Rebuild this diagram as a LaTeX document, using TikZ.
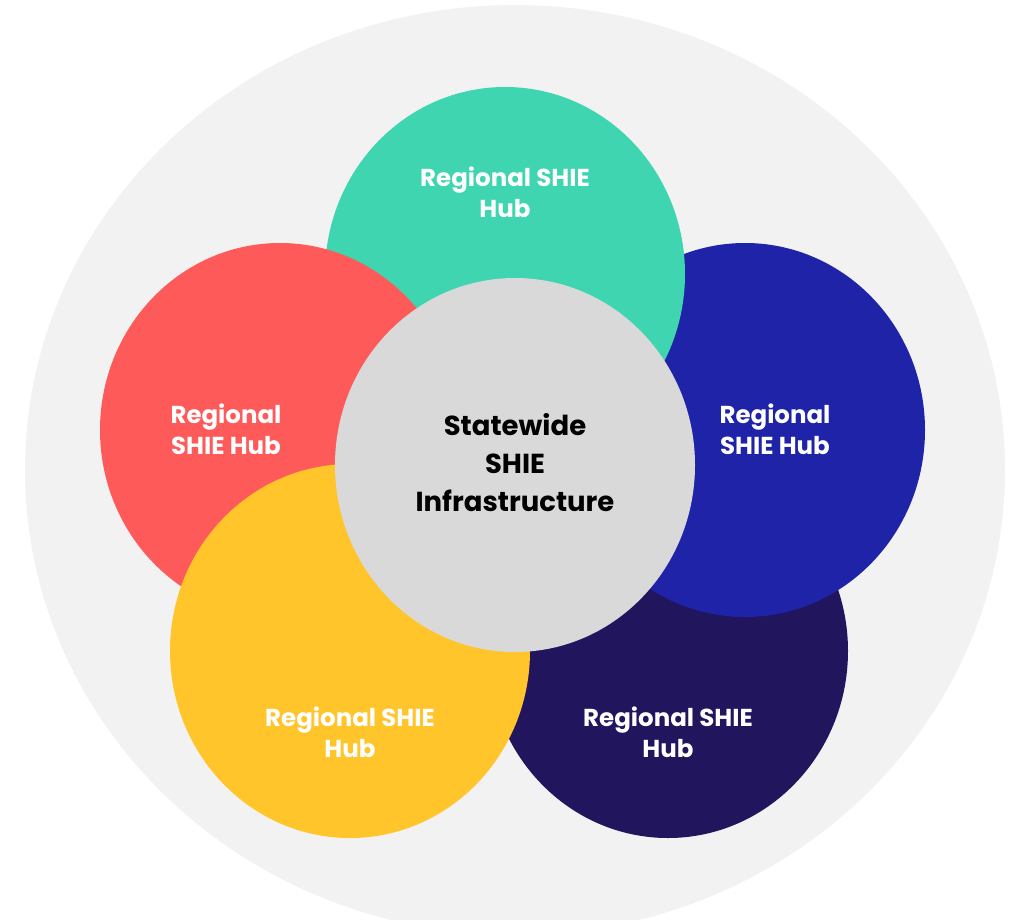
\documentclass[tikz,border=0pt]{standalone}
\usepackage{fontspec}
\setmainfont{Poppins}
\definecolor{backgray}{HTML}{F2F2F2}
\definecolor{hubteal}{HTML}{3ED5B0}
\definecolor{hubred}{HTML}{FF5A5A}
\definecolor{hubblue}{HTML}{1F23A8}
\definecolor{hubnavy}{HTML}{21155E}
\definecolor{hubyellow}{HTML}{FFC52B}
\definecolor{coregray}{HTML}{D9D9D9}
\begin{document}
\begin{tikzpicture}[x=1pt,y=-1pt,
    hub/.style={text=white, align=center, font=\bfseries\fontsize{24.5}{31}\selectfont},
    core/.style={text=black, align=center, font=\bfseries\fontsize{27.5}{38}\selectfont}]
    \def\rx{180pt}
    \def\ry{187pt}

    \useasboundingbox (0,0) rectangle (1015,919) ;
    \fill [backgray] (515,470) ellipse [x radius=490pt, y radius=465pt] ;
    \foreach \c/\x/\y in {hubnavy/668/651, hubblue/745/430, hubteal/505/274,
      hubred/280/430, hubyellow/350/651, coregray/515/465} {
      \fill [\c] (\x,\y) ellipse [x radius=\rx, y radius=\ry] ;
    }

    \node [hub] (north) at (505,192) {Regional SHIE\\Hub} ;
    \node [hub] (west) at (226,429) {Regional\\SHIE Hub} ;
    \node [hub] (east) at (775,429) {Regional\\SHIE Hub} ;
    \node [hub] (southwest) at (350,732) {Regional SHIE\\Hub} ;
    \node [hub] (southeast) at (668,732) {Regional SHIE\\Hub} ;
    \node [core] (statewide) at (515,463) {Statewide\\SHIE\\Infrastructure} ;

  \end{tikzpicture}
\end{document}
